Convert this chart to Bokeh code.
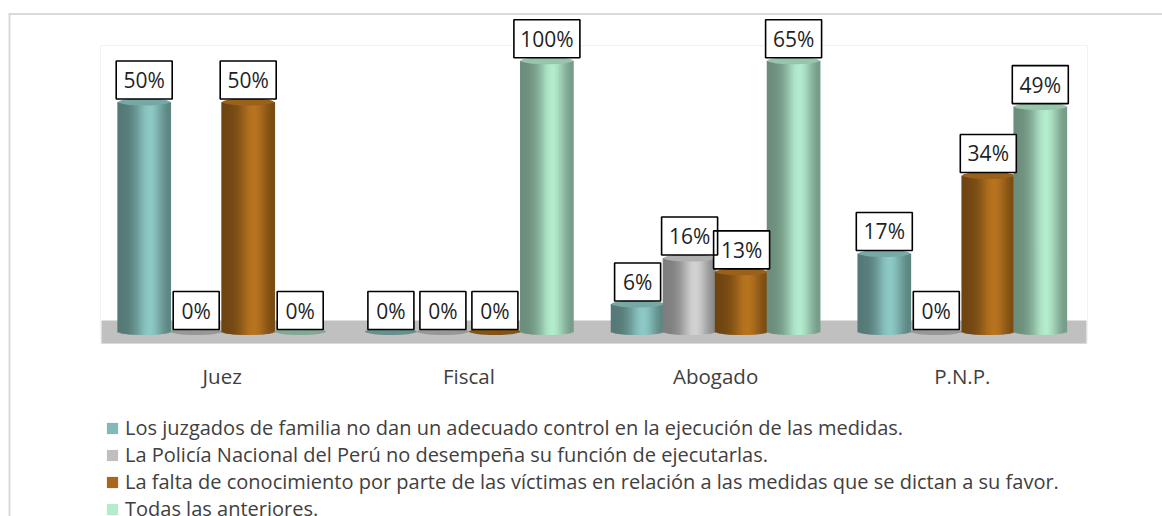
import numpy as np
from bokeh.plotting import figure
from bokeh.models import Range1d, ColumnDataSource, Legend, LegendItem
from bokeh.core.properties import value
from bokeh.embed import file_html
from bokeh.resources import INLINE

# ---------------- data ----------------
categories = ["Juez", "Fiscal", "Abogado", "P.N.P."]
series_names = [
    "Los juzgados de familia no dan un adecuado control en la ejecución de las medidas.",
    "La Policía Nacional del Perú no desempeña su función de ejecutarlas.",
    "La falta de conocimiento por parte de las víctimas en relación a las medidas que se dictan a su favor.",
    "Todas las anteriores.",
]
juzgados = [50, 0, 6, 17]
policia = [0, 0, 16, 0]
falta = [50, 0, 13, 34]
todas = [0, 100, 65, 49]
series_values = [juzgados, policia, falta, todas]
legend_colors = ["#7FBAB8", "#BFBFBF", "#A9661C", "#B3EBCD"]
highlight_colors = ["#8DC9C5", "#D2D2D2", "#B8741F", "#B4ECCE"]
axis_max = 59  # value axis top (bars are cut there)

# ---------------- layout ----------------
W, H = 1162, 516
CX0, CSP = 221.7, 246.7     # px of first category centre, px per category
Y0, SY = 331.0, 4.59        # px of zero line, px per percent
BW = 52.0 / CSP             # bar width (category units)
E = 3.5                     # half height of ellipse (px)
FONT = value("Open Sans")


def X(px):
    return -CX0 / CSP + px / CSP


def Y(py):
    return Y0 / SY - py / SY


def hex2rgb(h):
    h = h.lstrip("#")
    return [int(h[i:i + 2], 16) for i in (0, 2, 4)]


def shade(h, f):
    r, g, b = hex2rgb(h)
    return "#%02x%02x%02x" % tuple(int(max(0, min(255, c * f))) for c in (r, g, b))


p = figure(width=W, height=H, output_backend="svg", toolbar_location=None,
           x_range=Range1d(X(0), X(W)), y_range=Range1d(Y(H), Y(0)),
           min_border=0, outline_line_color=None)
p.axis.visible = False
p.grid.visible = False
p.background_fill_color = "white"
p.border_fill_color = "white"

# chart-area border (left + top) and plot-area outline
p.segment(x0=[X(9), X(8)], y0=[Y(13.5), Y(13.5)], x1=[X(9), X(W)], y1=[Y(H), Y(13.5)],
          line_color="#D9D9D9", line_width=2)
p.quad(left=[X(100)], right=[X(1087)], top=[Y(45)], bottom=[Y(343)],
       fill_color=None, line_color="#F2F2F2", line_width=1)
# floor
p.quad(left=[X(101)], right=[X(1086)], top=[Y(320)], bottom=[Y(343)],
       fill_color="#C0C0C0", line_color=None)

# ---------------- cylinders ----------------
N = 24
xs_idx = np.arange(len(categories))
label_rows = {"x": [], "y": [], "text": [], "w": []}
legend_items = []
for j, (vals, base, hi) in enumerate(zip(series_values, legend_colors, highlight_colors)):
    xc = xs_idx + (j - 1.5) * BW
    strips = {"x": [], "top": [], "bottom": [], "color": []}
    tops = {"x": [], "y": [], "color": []}
    flats = {"x": [], "y": []}
    for xi, v in zip(xc, vals):
        vv = min(v, axis_max)
        if v > 0:
            for k in range(N):
                u = (k + 0.5) / N
                f = 0.60 + 0.40 * np.exp(-((u - 0.62) / 0.27) ** 2)
                strips["x"].append(xi - BW / 2 + u * BW)
                strips["top"].append(vv)
                strips["bottom"].append(-E * np.sqrt(max(0.0, 1 - (2 * u - 1) ** 2)) / SY)
                strips["color"].append(shade(hi, f))
            tops["x"].append(xi)
            tops["y"].append(vv)
            tops["color"].append(shade(hi, 0.84))
        else:
            flats["x"].append(xi)
            flats["y"].append(0)
        label_rows["x"].append(xi)
        label_rows["y"].append(vv + 22 / SY if v > 0 else 21 / SY)
        txt = "%d%%" % v
        label_rows["text"].append(txt)
        label_rows["w"].append(46 + 10 * (len(txt) - 2))
    p.vbar(x="x", top="top", bottom="bottom", width=BW / N * 1.8, fill_color="color",
           line_color=None, source=ColumnDataSource(strips))
    p.ellipse(x="x", y="y", width=BW, height=2 * E / SY, fill_color="color",
              line_color=None, source=ColumnDataSource(tops))
    p.ellipse(x="x", y="y", width=BW, height=2 * E / SY, fill_color=shade(hi, 0.72),
              line_color=None, source=ColumnDataSource(flats))
    dummy = p.rect(x=[X(-500)], y=[Y(-500)], width=1, height=1, fill_color=base,
                   line_color=None)
    legend_items.append(LegendItem(label=series_names[j], renderers=[dummy]))

# ---------------- data labels ----------------
ls = ColumnDataSource(label_rows)
p.rect(x="x", y="y", width="w", height=38, width_units="screen", height_units="screen",
       fill_color="white", line_color=None, source=ls)
p.rect(x="x", y="y", width="w", height=38, width_units="screen", height_units="screen",
       fill_color=None, line_color="black", line_width=1.6, source=ls)
p.text(x="x", y="y", text="text", text_font=FONT, text_font_size="21px",
       text_align="center", text_baseline="middle", text_color="#1F1F1F", source=ls)

# ---------------- category labels ----------------
p.text(x=list(xs_idx), y=[Y(375)] * len(categories), text=categories, text_font=FONT,
       text_font_size="20.5px", text_align="center", text_baseline="middle",
       text_color="#404040")

# ---------------- legend ----------------
legend = Legend(items=legend_items, location=(105, -6), orientation="vertical",
                label_text_font="Open Sans", label_text_font_size="20px",
                label_text_color="#404040", glyph_width=14, glyph_height=14,
                label_standoff=6, spacing=0, padding=0, margin=0, label_height=26,
                border_line_color=None, background_fill_alpha=0)
p.add_layout(legend)

open("out.html", "w").write(file_html(p, INLINE))
